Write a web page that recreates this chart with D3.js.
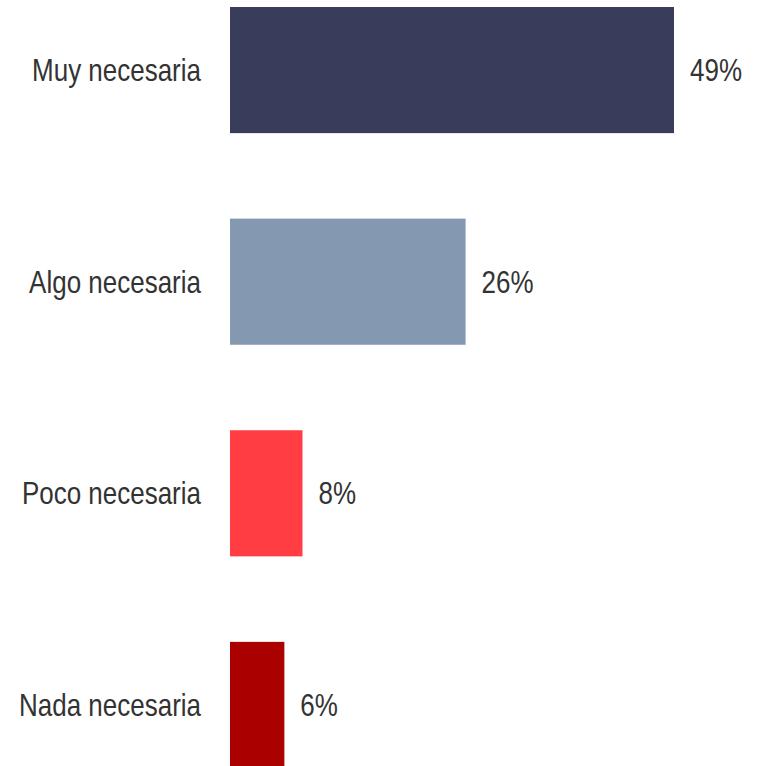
<!DOCTYPE html>
<html>
<head>
<meta charset="utf-8">
<script src="https://cdn.jsdelivr.net/npm/d3@7"></script>
<style>
  body { margin: 0; background: #fff; }
  svg { display: block; }
</style>
</head>
<body>
<script>
const categories = ["Muy necesaria", "Algo necesaria", "Poco necesaria", "Nada necesaria"];
const values = [49, 26, 8, 6];
const colors = ["#393c5b", "#8498b1", "#ff3d42", "#ab0000"];

const width = 760, height = 766;
const margin = {top: 7, left: 230};

const svg = d3.select("body").append("svg")
    .attr("width", width)
    .attr("height", height);

const x = d3.scaleLinear()
    .domain([0, 49])
    .range([margin.left, 674]);

const y = d3.scaleBand()
    .domain(categories)
    .range([margin.top, 768])
    .paddingInner(0.404)
    .paddingOuter(0);

// narrow face: Arial metrics squeezed horizontally
const font = "'Liberation Sans', Arial, sans-serif";
const squeeze = 0.852;
const fontSize = 30.5;

svg.selectAll("rect")
    .data(categories)
    .join("rect")
    .attr("x", x(0))
    .attr("y", d => y(d))
    .attr("width", (d, i) => x(values[i]) - x(0))
    .attr("height", y.bandwidth())
    .attr("fill", (d, i) => colors[i]);

svg.selectAll("text.cat")
    .data(categories)
    .join("text")
    .attr("class", "cat")
    .attr("transform", d => `translate(201,${y(d) + y.bandwidth() / 2 + 11}) scale(${squeeze},1)`)
    .attr("text-anchor", "end")
    .attr("font-family", font)
    .attr("font-size", fontSize)
    .attr("fill", "#333")
    .text(d => d);

svg.selectAll("text.val")
    .data(categories)
    .join("text")
    .attr("class", "val")
    .attr("transform", (d, i) => `translate(${x(values[i]) + 16},${y(d) + y.bandwidth() / 2 + 11}) scale(${squeeze},1)`)
    .attr("font-family", font)
    .attr("font-size", fontSize)
    .attr("fill", "#333")
    .text((d, i) => values[i] + "%");
</script>
</body>
</html>
